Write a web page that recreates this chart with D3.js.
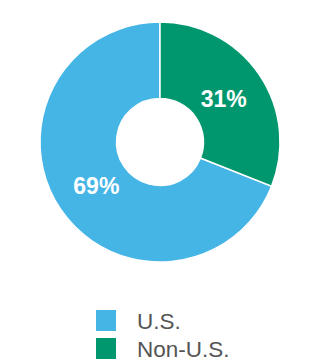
<!DOCTYPE html>
<html><head><meta charset="utf-8">
<script src="https://cdn.jsdelivr.net/npm/d3@7"></script>
<style>html,body{margin:0;padding:0;background:#fff;}</style>
</head><body>
<svg id="c" width="320" height="360"></svg>
<script>
const categories = ["U.S.", "Non-U.S."];
const values = [69, 31];
const labels = ["69%", "31%"];
const colors = ["#45B5E6", "#00976F"];

const svg = d3.select("#c");
const cx = 160, cy = 142, rOuter = 120, rInner = 43.5;
const g = svg.append("g").attr("transform", `translate(${cx},${cy})`);

const data = categories.map((c, i) => ({cat: c, value: values[i], label: labels[i], color: colors[i]}));
// Non-U.S. starts at 12 o'clock going clockwise, then U.S.
const order = [1, 0];
const pie = d3.pie().value(d => d.value).sort((a, b) => order.indexOf(data.indexOf(a)) - order.indexOf(data.indexOf(b)));
const arcs = pie(data);
const arc = d3.arc().innerRadius(rInner).outerRadius(rOuter);
const labelArc = d3.arc().innerRadius(77).outerRadius(77);

g.selectAll("path.slice").data(arcs).join("path")
  .attr("class", "slice")
  .attr("d", arc)
  .attr("fill", d => d.data.color)
  .attr("stroke", "#fff")
  .attr("stroke-width", 1.5);

g.selectAll("text.lbl").data(arcs).join("text")
  .attr("class", "lbl")
  .attr("transform", d => `translate(${labelArc.centroid(d)})`)
  .attr("text-anchor", "middle")
  .attr("dy", "0.36em")
  .attr("fill", "#fff")
  .attr("font-family", "Liberation Sans, Arial, sans-serif")
  .attr("font-weight", "bold")
  .attr("font-size", 23)
  .text(d => d.data.label);

const legend = svg.append("g").attr("transform", "translate(96,310)");
const items = legend.selectAll("g").data(data).join("g")
  .attr("transform", (d, i) => `translate(0,${i * 28})`);
items.append("rect").attr("width", 20).attr("height", 21).attr("fill", d => d.color);
items.append("text")
  .attr("x", 41).attr("y", 18.5)
  .attr("fill", "#555")
  .attr("font-family", "Liberation Sans, Arial, sans-serif")
  .attr("font-size", 22.5)
  .text(d => d.cat);
</script>
</body></html>
